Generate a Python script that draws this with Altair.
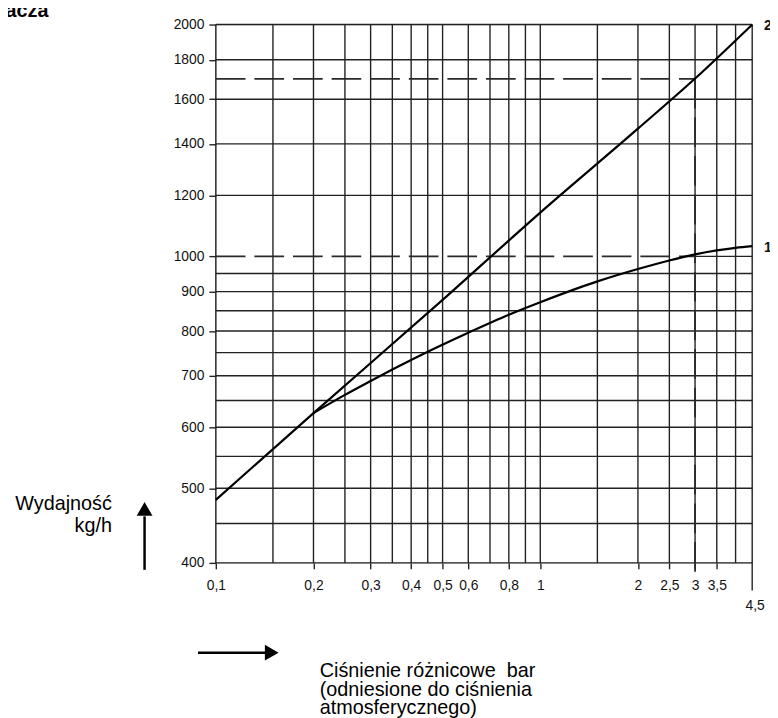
import altair as alt
import pandas as pd

# ---------------- data ----------------
x_grid = [0.1, 0.15, 0.2, 0.25, 0.3, 0.35, 0.4, 0.45, 0.5, 0.6, 0.7, 0.8, 0.9,
          1, 1.5, 2, 2.5, 3, 3.5, 4, 4.5]
y_grid = [400, 450, 500, 550, 600, 650, 700, 750, 800, 850, 900, 950,
          1200, 1400, 1600, 1800, 2000]
x_label_values = [0.1, 0.2, 0.3, 0.4, 0.5, 0.6, 0.8, 1, 2, 2.5, 3, 3.5]
y_label_values = [400, 500, 600, 700, 800, 900, 1000, 1200, 1400, 1600, 1800, 2000]

curve1_p = [0.2, 0.25, 0.3, 0.35, 0.45, 0.6, 0.8, 1, 1.5, 2, 2.5, 3, 3.5, 4, 4.5]
curve1_q = [626, 661, 689, 713, 752, 796, 840, 872, 928, 963, 988, 1006, 1018, 1026, 1031]
curve2_p = [0.1, 0.2, 0.5, 1, 2, 3, 4.5]
curve2_q = [483, 626, 878, 1140, 1465, 1702, 2000]

ref_p = 3
ref_q_low = 1000
ref_q_high = 1700
p_min, p_max = 0.1, 4.5
q_min, q_max = 400, 2000

# ---------------- layout ----------------
W, H = 542, 544
FONT = "Liberation Sans, Arial, sans-serif"
INK = "#111111"
GRID = "#222222"

xs = alt.Scale(type="log", domain=[p_min, p_max], nice=False)
ys = alt.Scale(type="log", domain=[q_min, q_max], nice=False)

XAX = alt.Axis(
    values=x_label_values,
    labelExpr="replace(toString(datum.value), '.', ',')",
    domain=False, grid=False, ticks=True, tickSize=6, tickWidth=1.4,
    tickColor=GRID, labelPadding=10, labelFont=FONT, labelFontSize=14,
    labelColor=INK, labelOverlap=False, labelFlush=False, labelBound=False,
    title=None)
YAX = alt.Axis(
    values=y_label_values,
    labelExpr="toString(datum.value)",
    domain=False, grid=False, ticks=True, tickSize=7, tickWidth=1.4,
    tickColor=GRID, labelPadding=5, labelFont=FONT, labelFontSize=14,
    labelColor=INK, labelOverlap=False, labelFlush=False, labelBound=False,
    title=None)

curves = pd.DataFrame({
    "p": curve1_p + curve2_p,
    "q": curve1_q + curve2_q,
    "s": ["1"] * len(curve1_p) + ["2"] * len(curve2_p),
})

one = pd.DataFrame({"d": [0]})

vgrid = alt.Chart(pd.DataFrame({"g": x_grid})).mark_rule(
    color=GRID, strokeWidth=1.4
).encode(x=alt.X("g:Q", scale=xs, axis=XAX), y=alt.value(0), y2=alt.value(H))

hgrid = alt.Chart(pd.DataFrame({"g": y_grid})).mark_rule(
    color=GRID, strokeWidth=1.4
).encode(y=alt.Y("g:Q", scale=ys, axis=YAX), x=alt.value(0), x2=alt.value(W))

grid1000 = alt.Chart(one).mark_rule(color=GRID, strokeWidth=1.4).encode(
    x=alt.XDatum(ref_p, axis=XAX), x2=alt.X2Datum(p_max),
    y=alt.YDatum(ref_q_low, axis=YAX))

tick45 = alt.Chart(one).mark_rule(color=GRID, strokeWidth=1.4).encode(
    x=alt.XDatum(p_max, axis=XAX), y=alt.value(H), y2=alt.value(H + 28))

dash = dict(color="#2a2a2a", strokeWidth=1.8, strokeDash=[30, 9])
dash_hi = alt.Chart(one).mark_rule(**dash).encode(
    x=alt.XDatum(p_min, axis=XAX), x2=alt.X2Datum(ref_p),
    y=alt.YDatum(ref_q_high, axis=YAX))
dash_lo = alt.Chart(one).mark_rule(**dash).encode(
    x=alt.XDatum(p_min, axis=XAX), x2=alt.X2Datum(ref_p),
    y=alt.YDatum(ref_q_low, axis=YAX))
dash_v = alt.Chart(one).mark_rule(**dash).encode(
    x=alt.XDatum(ref_p, axis=XAX),
    y=alt.YDatum(ref_q_high, axis=YAX), y2=alt.value(H + 9))

lines = alt.Chart(curves).mark_line(
    color="#000000", strokeWidth=2.2, interpolate="monotone"
).encode(
    x=alt.X("p:Q", scale=xs, axis=XAX),
    y=alt.Y("q:Q", scale=ys, axis=YAX),
    detail="s:N",
)

lab45 = alt.Chart(one).mark_text(
    text="4,5", font=FONT, fontSize=14, color=INK, align="center",
    baseline="middle", dx=3
).encode(x=alt.XDatum(p_max, axis=XAX), y=alt.value(588))

lab2 = alt.Chart(one).mark_text(
    text="2", font=FONT, fontSize=14, fontWeight="bold", color=INK,
    align="left", baseline="middle", dx=12, dy=1
).encode(x=alt.XDatum(p_max, axis=XAX), y=alt.YDatum(q_max, axis=YAX))

lab1 = alt.Chart(one).mark_text(
    text="1", font=FONT, fontSize=14, fontWeight="bold", color=INK,
    align="left", baseline="middle", dx=12, dy=2
).encode(x=alt.XDatum(p_max, axis=XAX), y=alt.YDatum(curve1_q[-1], axis=YAX))

title_frag = alt.Chart(one).mark_text(
    text="lacza", font=FONT, fontSize=20, fontWeight="bold", color="#000000",
    align="left", baseline="alphabetic"
).encode(x=alt.value(-218), y=alt.value(-8))

ylab = alt.Chart(one).mark_text(
    text=["Wydajność", "kg/h"], font=FONT, fontSize=20, color="#000000",
    align="right", baseline="alphabetic", lineHeight=22
).encode(x=alt.value(-105), y=alt.value(491))

xlab = alt.Chart(one).mark_text(
    text=["Ciśnienie różnicowe\u00a0 bar", "(odniesione do ciśnienia",
          "atmosferycznego)"],
    font=FONT, fontSize=20, color="#000000", align="left",
    baseline="alphabetic", lineHeight=19
).encode(x=alt.value(105), y=alt.value(659))

up_shaft = alt.Chart(one).mark_rule(color="#000000", strokeWidth=2.5).encode(
    x=alt.value(-72), y=alt.value(497), y2=alt.value(551))
up_head = alt.Chart(one).mark_point(
    shape="triangle-up", filled=True, size=256, color="#000000", opacity=1,
    strokeWidth=0
).encode(x=alt.value(-72), y=alt.value(489.5))

right_shaft = alt.Chart(one).mark_rule(color="#000000", strokeWidth=2.5).encode(
    x=alt.value(-18), x2=alt.value(50), y=alt.value(634.7))
right_head = alt.Chart(one).mark_point(
    shape="triangle-right", filled=True, size=256, color="#000000", opacity=1,
    strokeWidth=0
).encode(x=alt.value(56.5), y=alt.value(634.7))

chart = alt.layer(
    vgrid, hgrid, grid1000, tick45, dash_hi, dash_lo, dash_v, lines,
    lab45, lab2, lab1, title_frag, ylab, xlab,
    up_shaft, up_head, right_shaft, right_head,
).properties(
    width=W, height=H,
    autosize=alt.AutoSizeParams(type="none"),
    padding={"left": 210, "top": 13, "right": 18, "bottom": 153},
).configure_view(stroke=None).configure(background="white")

chart.save("out.html", embed_options={"renderer": "svg", "actions": False})
